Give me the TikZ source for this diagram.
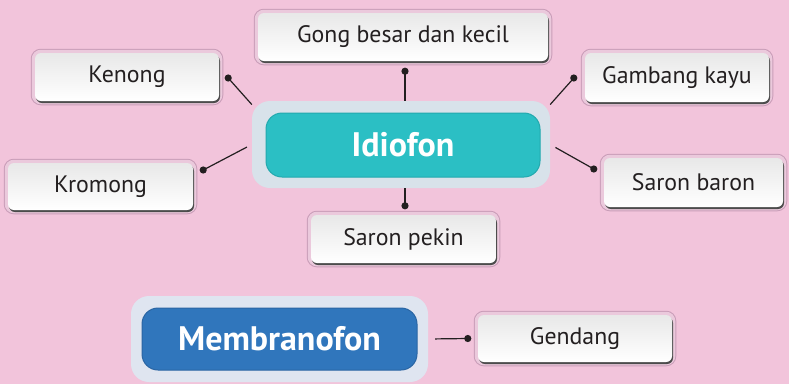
\documentclass[tikz,border=0pt]{standalone}
\usepackage{fontspec}
\setmainfont{PT Sans}
\usetikzlibrary{shadows}
\definecolor{bgc}{HTML}{F2C4DB}
\definecolor{txt}{HTML}{231F20}
\definecolor{halodark}{HTML}{C99DB8}
\definecolor{halolight}{HTML}{EBC9DC}
\definecolor{hubhaloA}{HTML}{D8E2EA}
\definecolor{hubhaloB}{HTML}{DFE5F0}
\definecolor{tealc}{HTML}{2BBFC4}
\definecolor{teald}{HTML}{22A9AE}
\definecolor{bluec}{HTML}{3076BC}
\definecolor{blued}{HTML}{2A65A3}
\begin{document}
\begin{tikzpicture}[x=1pt,y=-1pt,
  leaf/.style={rectangle, rounded corners=6pt, inner sep=0pt,
    font=\fontsize{23.8}{26}\selectfont, text=txt,
    preaction={draw=halodark, line width=8.5pt},
    preaction={draw=halolight, line width=6.5pt},
    drop shadow={shadow xshift=1pt, shadow yshift=-2pt, fill=black!70, opacity=1},
    top color=black!9, bottom color=white},
  hubhalo/.style={rectangle, rounded corners=18pt, inner sep=0pt},
  hubin/.style={rectangle, rounded corners=16pt, inner sep=0pt, line width=1pt,
    font=\fontsize{34}{36}\bfseries\selectfont, text=white},
  conn/.style={draw=txt, line width=1.2pt},
  dotc/.style={fill=txt}
]
\fill[bgc] (0,0) rectangle (789,384);
\useasboundingbox (0,0) rectangle (789,384);

% hubs
\node[hubhalo, fill=hubhaloA, minimum width=298pt, minimum height=87pt] (idh) at (401,144.5) {};
\node[hubin, fill=tealc, draw=teald, minimum width=274pt, minimum height=64pt] (idiofon) at (403,145) {Idiofon};
\node[hubhalo, fill=hubhaloB, minimum width=297pt, minimum height=86pt] (mbh) at (279.5,339) {};
\node[hubin, fill=bluec, draw=blued, minimum width=275pt, minimum height=62pt] (membranofon) at (279.5,339) {Membranofon};

% leaves
\node[leaf, minimum width=290pt, minimum height=48pt] (gong) at (403,37) {Gong besar dan kecil};
\node[leaf, minimum width=184pt, minimum height=48pt] (kenong) at (127,77) {Kenong};
\node[leaf, minimum width=185pt, minimum height=47pt] (kromong) at (100.5,186.5) {Kromong};
\node[leaf, minimum width=184pt, minimum height=49pt] (gambang) at (677,77.5) {Gambang kayu};
\node[leaf, minimum width=179pt, minimum height=49pt] (baron) at (693.5,182.5) {Saron baron};
\node[leaf, minimum width=185pt, minimum height=48pt] (pekin) at (403.5,239) {Saron pekin};
\node[leaf, minimum width=194pt, minimum height=47pt] (gendang) at (575,338.5) {Gendang};

% dot coordinates
\coordinate (gd) at ([xshift=2pt,yshift=-10pt]gong.south);
\coordinate (kd) at ([xshift=9pt,yshift=-1pt]kenong.east);
\coordinate (krd) at ([xshift=10pt,yshift=16.5pt]kromong.east);
\coordinate (gad) at ([xshift=-11pt,yshift=-0.5pt]gambang.west);
\coordinate (bd) at ([xshift=-10pt,yshift=13.5pt]baron.west);
\coordinate (pd) at ([xshift=1.5pt,yshift=9pt]pekin.north);
\coordinate (ged) at ([xshift=-10pt]gendang.west);

% connectors
\draw[conn] (gd) -- (gd |- idh.north);
\draw[conn] (pd) -- (pd |- idh.south);
\draw[conn] (kd) -- (idh.165);
\draw[conn, shorten >=5.5pt] (krd) -- (idh.west);
\draw[conn] (gad) -- (idh.15);
\draw[conn, shorten >=6pt] (bd) -- (idh.east);
\draw[conn, shorten >=7pt] (ged) -- (mbh.east);

\foreach \d in {gd,pd,kd,krd,gad,bd,ged}
  \fill[dotc] (\d) circle[radius=3.6pt];
\end{tikzpicture}
\end{document}
